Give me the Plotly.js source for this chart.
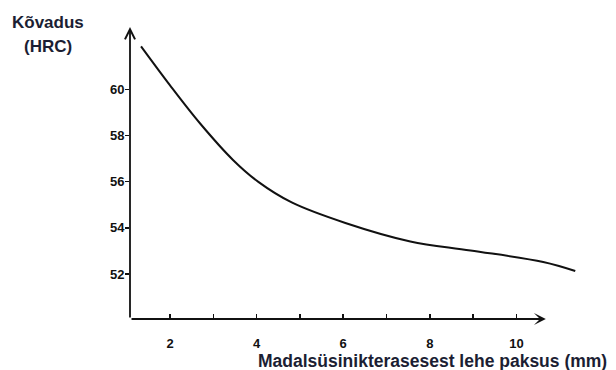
<!DOCTYPE html>
<html>
<head>
<meta charset="utf-8">
<script src="https://cdn.plot.ly/plotly-3.0.1.min.js"></script>
<style>
  html, body { margin: 0; padding: 0; background: #fff; }
  #chart { width: 616px; height: 370px; }
</style>
</head>
<body>
<div id="chart"></div>
<script>
// Hardness (HRC) versus thickness of the low-carbon steel sheet (mm)
const thickness = [1.33, 2.00, 2.69, 3.46, 4.04, 4.81, 6.05, 7.55, 8.94, 10.62, 11.36];
const hardness  = [61.86, 60.17, 58.53, 56.93, 55.99, 55.10, 54.21, 53.41, 53.02, 52.52, 52.13];

const xTickVals = [2, 3, 4, 5, 6, 7, 8, 9, 10];
const xTickText = ['2', '', '4', '', '6', '', '8', '', '10'];
const yTickVals = [52, 54, 56, 58, 60];
const yTickText = ['52', '54', '56', '58', '60'];

const xRange = [1.075, 11.4];
const yRange = [50.05, 62.7];
const xArrowEnd = 10.68;

const inkColor = '#111111';
const titleColor = '#1b1e33';
const fontFamily = 'Liberation Sans, Arial, sans-serif';

const trace = {
  x: thickness,
  y: hardness,
  type: 'scatter',
  mode: 'lines',
  line: { color: inkColor, width: 2, shape: 'spline', smoothing: 1 },
  hoverinfo: 'skip'
};

const axisArrow = (x0, y0, x1, y1, head) => ({
  x: x1, y: y1, ax: x0, ay: y0,
  xref: 'x', yref: 'y', axref: 'x', ayref: 'y',
  text: '', showarrow: true,
  arrowhead: head, arrowsize: 1.1, arrowwidth: 1.8,
  arrowcolor: inkColor, standoff: 0, startstandoff: 0
});

const W = 616, H = 370, mL = 130, mR = 39, mT = 27, mB = 51;
const plotW = W - mL - mR, plotH = H - mT - mB;
const px = v => (v - mL) / plotW;
const py = v => (H - mB - v) / plotH;

const label = (text, x, y, size) => ({
  xref: 'paper', yref: 'paper', x: px(x), y: py(y),
  xanchor: 'center', yanchor: 'middle', showarrow: false,
  text: text,
  font: { family: fontFamily, size: size, color: titleColor, weight: 'bold' }
});

const layout = {
  width: W, height: H,
  margin: { l: mL, r: mR, t: mT, b: mB, pad: 0 },
  paper_bgcolor: '#ffffff',
  plot_bgcolor: '#ffffff',
  showlegend: false,
  font: { family: fontFamily, color: inkColor },
  xaxis: {
    range: xRange,
    showgrid: false, zeroline: false, showline: false,
    tickmode: 'array', tickvals: xTickVals, ticktext: xTickText,
    ticks: 'inside', ticklen: 5, tickwidth: 1.5, tickcolor: inkColor,
    ticklabelstandoff: 15,
    tickfont: { size: 13, color: inkColor, weight: 'bold' }
  },
  yaxis: {
    range: yRange,
    showgrid: false, zeroline: false, showline: false,
    tickmode: 'array', tickvals: yTickVals, ticktext: yTickText,
    ticks: 'outside', ticklen: 4, tickwidth: 1.5, tickcolor: inkColor,
    ticklabelstandoff: -2,
    tickfont: { size: 13, color: inkColor, weight: 'bold' }
  },
  annotations: [
    axisArrow(xRange[0], yRange[0], xRange[0], yRange[1], 5),
    axisArrow(xRange[0], yRange[0], xArrowEnd, yRange[0], 3),
    label('Kõvadus', 48, 22, 17),
    label('(HRC)', 48, 46, 17),
    label('Madalsüsinikterasesest lehe paksus (mm)', 432, 361, 17.5)
  ]
};

Plotly.newPlot('chart', [trace], layout, { staticPlot: true, displayModeBar: false });
</script>
</body>
</html>
